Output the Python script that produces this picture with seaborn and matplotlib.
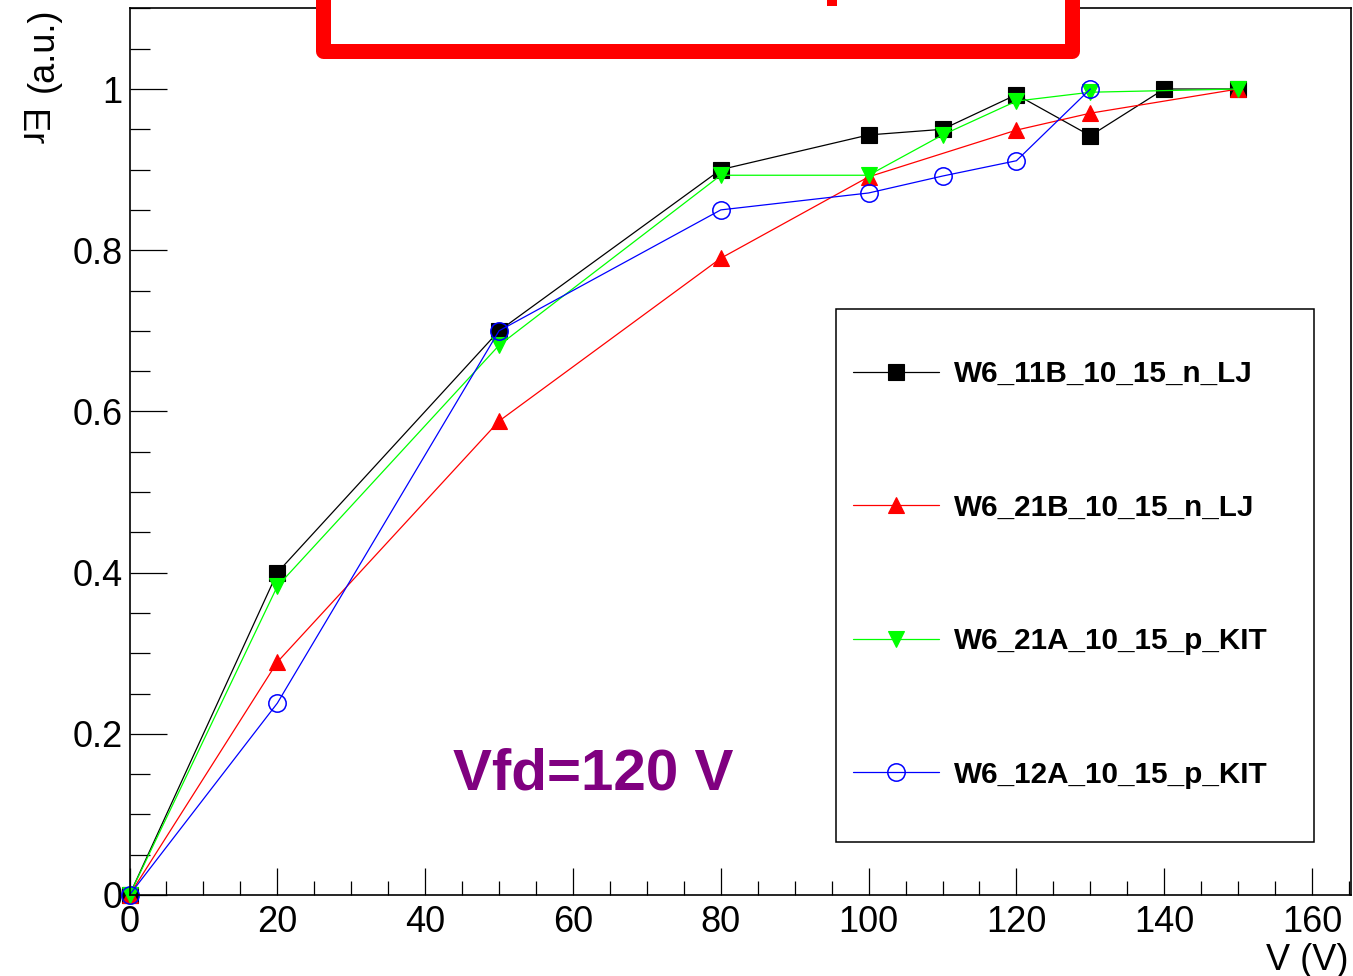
import matplotlib
matplotlib.use("Agg")
import matplotlib.pyplot as plt
import seaborn as sns
import pandas as pd
from matplotlib.patches import Rectangle
from matplotlib.ticker import MultipleLocator, FuncFormatter

# ---------------- data ----------------
x_11B = [0, 20, 50, 80, 100, 110, 120, 130, 140, 150]
y_11B = [0.0, 0.40, 0.70, 0.90, 0.943, 0.950, 0.993, 0.942, 1.0, 1.0]

x_21B = [0, 20, 50, 80, 100, 120, 130, 150]
y_21B = [0.0, 0.289, 0.588, 0.790, 0.891, 0.949, 0.970, 1.0]

x_21A = [0, 20, 50, 80, 100, 110, 120, 130, 150]
y_21A = [0.0, 0.383, 0.682, 0.893, 0.893, 0.943, 0.985, 0.996, 1.0]

x_12A = [0, 20, 50, 80, 100, 110, 120, 130]
y_12A = [0.0, 0.238, 0.700, 0.850, 0.871, 0.892, 0.911, 1.0]

labels = ["W6_11B_10_15_n_LJ", "W6_21B_10_15_n_LJ", "W6_21A_10_15_p_KIT", "W6_12A_10_15_p_KIT"]
x_ticks = [0, 20, 40, 60, 80, 100, 120, 140, 160]
y_ticks = [0, 0.2, 0.4, 0.6, 0.8, 1.0]

# ---------------- style ----------------
sns.set_style("white")
plt.rcParams["font.family"] = ["Liberation Sans", "DejaVu Sans"]
for key in ["text.color", "axes.labelcolor", "xtick.color", "ytick.color", "axes.edgecolor"]:
    plt.rcParams[key] = "black"

W, H = 1353, 976
fig = plt.figure(figsize=(W / 100, H / 100), dpi=100)

def fx(px):
    return px / W

def fy(py):
    return 1 - py / H

ax = fig.add_axes([fx(129.5), fy(895), fx(1350.5) - fx(129.5), fy(8) - fy(895)])

series = [
    (x_11B, y_11B, labels[0], dict(color="black", marker="s", markersize=11.5,
                                   markerfacecolor="black", markeredgecolor="black")),
    (x_21B, y_21B, labels[1], dict(color="#ff0000", marker="^", markersize=12,
                                   markerfacecolor="#ff0000", markeredgecolor="#ff0000")),
    (x_21A, y_21A, labels[2], dict(color="#00ff00", marker="v", markersize=12,
                                   markerfacecolor="#00ff00", markeredgecolor="#00ff00")),
    (x_12A, y_12A, labels[3], dict(color="#0000ff", marker="o", markersize=12.5,
                                   markerfacecolor="none", markeredgecolor="#0000ff",
                                   markeredgewidth=1.1)),
]

for xs, ys, lab, kw in series:
    df = pd.DataFrame({"V": xs, "E": ys})
    kw.setdefault("markeredgewidth", 0.8)
    sns.lineplot(data=df, x="V", y="E", ax=ax, label=lab, linewidth=0.9,
                 errorbar=None, **kw)

for ln in ax.lines:
    ln.set_clip_on(False)

ax.set_xlim(0, 165.2)
ax.set_ylim(0, 1.1005)
ax.set_xlabel("")
ax.set_ylabel("")
ax.set_xticks(x_ticks)
ax.xaxis.set_minor_locator(MultipleLocator(5))
ax.set_yticks(y_ticks)
ax.yaxis.set_minor_locator(MultipleLocator(0.05))
ax.xaxis.set_major_formatter(FuncFormatter(lambda v, p: "%g" % v))
ax.yaxis.set_major_formatter(FuncFormatter(lambda v, p: "%g" % round(v, 2)))

ax.tick_params(axis="x", which="major", direction="in", length=19.4, width=0.9,
               labelsize=26, pad=7, top=False, bottom=True, color="black", labelcolor="black")
ax.tick_params(axis="x", which="minor", direction="in", length=10, width=0.9,
               top=False, bottom=True, color="black")
ax.tick_params(axis="y", which="major", direction="in", length=26.6, width=0.9,
               labelsize=26, pad=5, left=True, right=False, color="black", labelcolor="black")
ax.tick_params(axis="y", which="minor", direction="in", length=14.4, width=0.9,
               left=True, right=False, color="black")
for s in ax.spines.values():
    s.set_visible(True)
    s.set_color("black")
    s.set_linewidth(1.2)

# legend
leg = ax.legend(loc="upper left", bbox_to_anchor=(fx(853), fy(360)),
                bbox_transform=fig.transFigure, frameon=False,
                borderpad=0, borderaxespad=0, handlelength=2.91,
                handletextpad=0.51, labelspacing=3.57,
                prop={"family": ["Liberation Sans", "DejaVu Sans"], "weight": "bold", "size": 21.3})
for t in leg.get_texts():
    t.set_color("black")
leg.set_zorder(6)
ax.add_patch(Rectangle((fx(836), fy(842)), fx(1314) - fx(836), fy(309) - fy(842),
                       transform=fig.transFigure, facecolor="white", edgecolor="black",
                       linewidth=1.1, zorder=5, clip_on=False))

# axis titles
fig.text(fx(1348), fy(970), "V (V)", ha="right", va="baseline", fontsize=26, color="black")
fig.text(fx(43), fy(50), "(a.u.)", rotation=90, ha="center", va="center", fontsize=26, color="black")
fig.text(fx(29), fy(128), "Er", rotation=-90, ha="center", va="center", fontsize=26, color="black")

# annotation
fig.text(fx(453), fy(789), "Vfd=120 V", ha="left", va="baseline", fontsize=42,
         fontweight="bold", color="#800080")

# red title box (partially outside the canvas)
fig.add_artist(Rectangle((fx(322.5), fy(50.5)), fx(1071.5) - fx(322.5), 0.3,
                         transform=fig.transFigure, facecolor="white", edgecolor="#ff0000",
                         linewidth=10.8, joinstyle="round", zorder=10))
fig.add_artist(Rectangle((fx(827), fy(6)), fx(837) - fx(827), fy(0) - fy(6),
                         transform=fig.transFigure, facecolor="#ff0000", edgecolor="none",
                         zorder=11))

fig.savefig("out.png", dpi=100)
